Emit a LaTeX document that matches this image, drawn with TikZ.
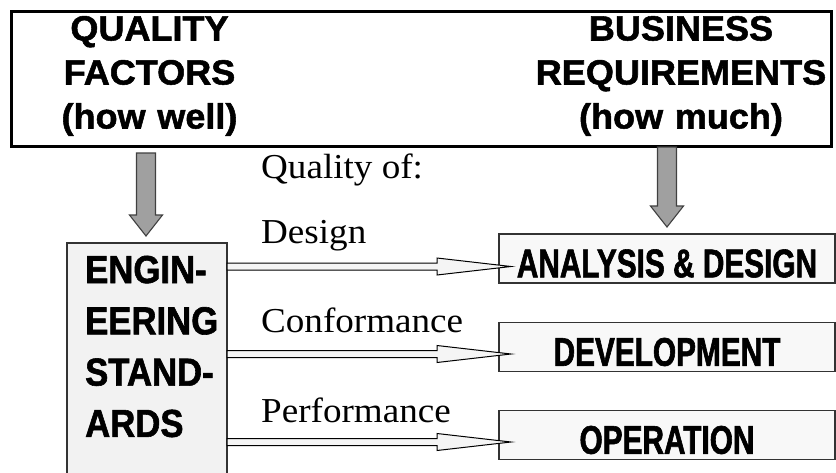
\documentclass[tikz,border=0pt]{standalone}
\usepackage{fontspec}
\setmainfont{Liberation Serif}
\newfontfamily\topfont[FakeStretch=1.03,FakeBold=1.5]{Liberation Sans}
\newfontfamily\engfont[FakeStretch=0.89,FakeBold=1.5]{Liberation Sans}
\newfontfamily\boxfont[FakeStretch=0.745,FakeBold=1.5]{Liberation Sans}
\newfontfamily\labfont[FakeStretch=1.06]{Liberation Serif}
\usetikzlibrary{calc}
\definecolor{arrgray}{HTML}{A0A0A0}
\definecolor{boxfill}{HTML}{F8F8F8}
\definecolor{engfill}{HTML}{F2F2F2}
\newcommand\grayarrow[2]{%
  \draw[grayarr] let \p1=(#1), \p2=(#2) in
    (\x1-9.5pt,\y1) -- (\x1+9.5pt,\y1) -- (\x1+9.5pt,\y2+21pt) -- (\x1+16.5pt,\y2+21pt)
    -- (\x1,\y2) -- (\x1-16.5pt,\y2+21pt) -- (\x1-9.5pt,\y2+21pt) -- cycle;}
\newcommand\hollowarrow[2]{%
  \draw[hollow] let \p1=(#1), \p2=(#2) in
    (\x1,\y1+3.5pt) -- (\x2-74pt,\y1+3.5pt) -- (\x2-74pt,\y1+8.5pt) -- (\x2,\y1)
    -- (\x2-74pt,\y1-8.5pt) -- (\x2-74pt,\y1-3.5pt) -- (\x1,\y1-3.5pt) -- cycle;}
\begin{document}
\begin{tikzpicture}[x=1pt,y=-1pt,
  topboxst/.style={draw=black, line width=3pt, fill=white, minimum width=820pt, minimum height=135pt, inner sep=0pt, outer sep=0pt},
  toptext/.style={text width=330pt, align=center, inner sep=0pt, anchor=base, font=\topfont\bfseries\fontsize{35}{44}\selectfont},
  stagebox/.style={draw=black!80, line width=1.3pt, fill=boxfill, minimum width=336pt, minimum height=49pt, inner sep=0pt, outer sep=0pt, text height=37.5pt, text depth=0pt, font=\boxfont\bfseries\fontsize{40}{42}\selectfont},
  engbox/.style={draw=black!80, line width=1.3pt, fill=engfill, minimum width=160pt, minimum height=250pt, inner sep=0pt, outer sep=0pt},
  engtext/.style={text width=140pt, align=left, inner sep=0pt, anchor=base west, font=\engfont\bfseries\fontsize{39}{51.3}\selectfont},
  lab/.style={anchor=base west, inner sep=0pt, font=\labfont\fontsize{35}{40}\selectfont},
  grayarr/.style={draw=black!75, line width=1.1pt, fill=arrgray, line join=miter},
  hollow/.style={draw=black, line width=1pt, fill=black!4, line join=miter}]
\useasboundingbox (0,0) rectangle (836,472);
\clip (0,0) rectangle (836,472);
\fill[white] (0,0) rectangle (836,472);

% top box
\node[topboxst] (topbox) at (421,78.5) {};
\node[toptext] (qf) at (149.5,40.5) {QUALITY\\FACTORS\\(how well)};
\node[toptext] (br) at (681,40.5) {BUSINESS\\REQUIREMENTS\\(how much)};

% engineering standards
\node[engbox] (eng) at (147,368) {};
\node[engtext] (engt) at (85,283) {ENGIN-\\EERING\\STAND-\\ARDS};

% stage boxes
\node[stagebox] (ad) at (667,258.5) {ANALYSIS \& DESIGN};
\node[stagebox] (dev) at (667,347) {DEVELOPMENT};
\node[stagebox] (op) at (667,435) {OPERATION};

% labels
\node[lab] (qof) at (261,178) {Quality of:};
\node[lab] (ldes) at (261,243) {Design};
\node[lab] (lcon) at (261,332) {Conformance};
\node[lab] (lper) at (261,422) {Performance};

% gray arrows
\coordinate (g1s) at ($(topbox.south -| eng.north)+(-1,7)$);
\coordinate (g1e) at ($(eng.north)+(-1,-7)$);
\grayarrow{g1s}{g1e}
\coordinate (g2s) at ($(topbox.south -| ad.north)+(0,1)$);
\coordinate (g2e) at ($(ad.north)+(0,-7)$);
\grayarrow{g2s}{g2e}

% hollow arrows
\coordinate (h1s) at ($(ad.west -| eng.east)+(0,8)$);
\coordinate (h1e) at ($(ad.west)+(12,8)$);
\hollowarrow{h1s}{h1e}
\coordinate (h2s) at ($(dev.west -| eng.east)+(0,7)$);
\coordinate (h2e) at ($(dev.west)+(12,7)$);
\hollowarrow{h2s}{h2e}
\coordinate (h3s) at ($(op.west -| eng.east)+(0,7)$);
\coordinate (h3e) at ($(op.west)+(12,7)$);
\hollowarrow{h3s}{h3e}
\end{tikzpicture}
\end{document}
